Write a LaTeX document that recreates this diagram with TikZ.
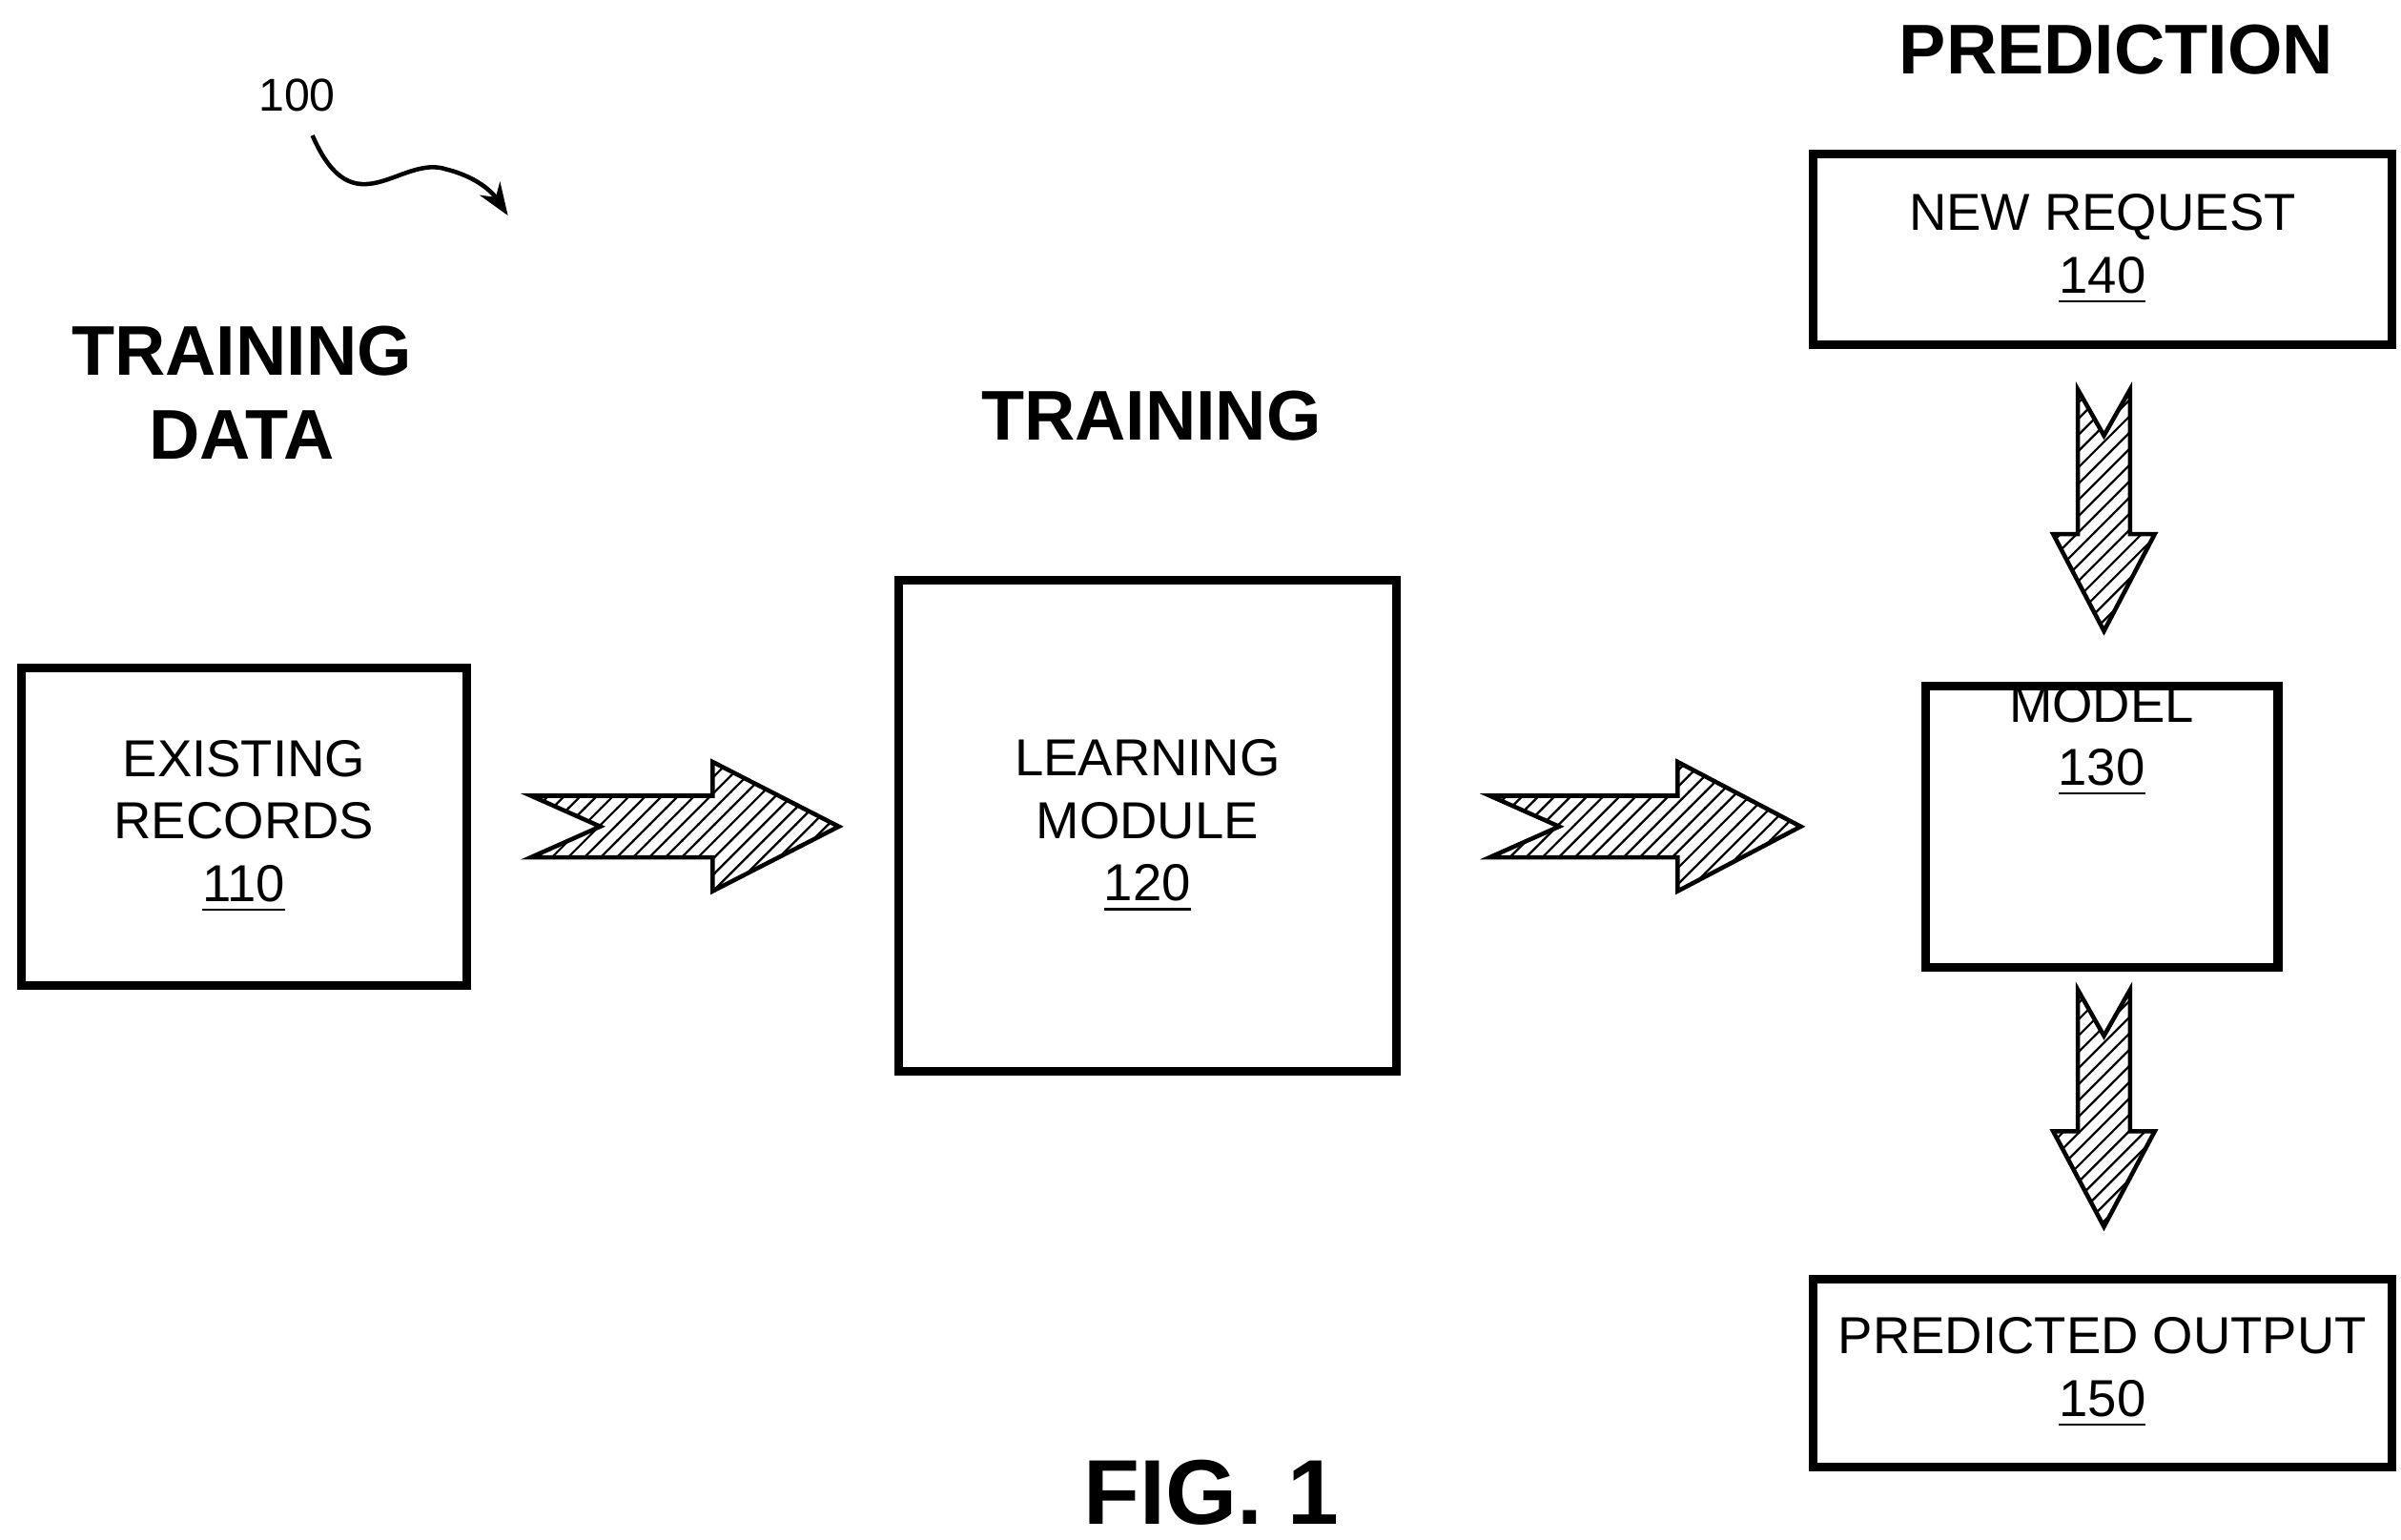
\documentclass[tikz,border=0pt]{standalone}
\usepackage{fontspec}
\setmainfont{Liberation Sans}
\usetikzlibrary{calc,patterns,arrows.meta}
\begin{document}
\begin{tikzpicture}[x=0.01cm,y=-0.01cm,
    box/.style={draw,line width=1.6pt,align=center,inner sep=0pt,font=\fontsize{9.6}{11.6}\selectfont},
    head/.style={font=\bfseries\fontsize{13}{15.5}\selectfont,align=center},
    % hatched notched arrow: length, body half, head half, head length, notch
    pics/fatarrow/.style n args={5}{code={
        \draw[line width=0.8pt,pattern=north east lines]
          (0,#2) -- ({#1-#4},#2) -- ({#1-#4},#3) -- (#1,0) -- ({#1-#4},-#3)
          -- ({#1-#4},-#2) -- (0,-#2) -- (#5,0) -- cycle;}}]
    \useasboundingbox (0,0) rectangle (1560,1000);

    % Headings
    \node[head] (hdata) at (157,255) {TRAINING\\DATA};
    \node[head] (htrain) at (748,270) {TRAINING};
    \node[head] (hpred) at (1375,32) {PREDICTION};
    \node[font=\bfseries\fontsize{17}{20}\selectfont] (fig) at (787,970) {FIG. 1};

    % Reference numeral
    \node[font=\fontsize{8.5}{10}\selectfont] (ref) at (193,62) {100};
    \coordinate (reftip) at (330,140);
    \draw[line width=0.8pt,-{Stealth[length=6pt]}] (203,88)
      .. controls (230,150) and (260,100) .. (290,110)
      .. controls (310,115) and (320,125) .. (reftip);

    % Boxes
    \node[box,minimum width=289cm/100,minimum height=206cm/100] (recs) at (158.5,537) {EXISTING\\RECORDS\\\underline{110}};
    \node[box,minimum width=323cm/100,minimum height=319cm/100] (learn) at (745.5,536.5) {LEARNING\\MODULE\\\underline{120}};
    \node[box,minimum width=229cm/100,minimum height=182cm/100] (model) at (1365.5,537) {MODEL\\\underline{130}\\[22pt]};
    \node[box,minimum width=376cm/100,minimum height=124cm/100] (req) at (1366,162) {NEW REQUEST\\\underline{140}};
    \node[box,minimum width=376cm/100,minimum height=122cm/100] (out) at (1366,892) {PREDICTED OUTPUT\\\underline{150}};

    % Arrows
    \pic at (345,537) {fatarrow={200}{20}{42}{82}{45}};
    \pic at (968,537) {fatarrow={202}{20}{42}{80}{45}};
    \pic[rotate=-90] at (1367,253) {fatarrow={157}{17}{33}{63}{30}};
    \pic[rotate=-90] at (1367,643) {fatarrow={154}{17}{33}{62}{30}};
\end{tikzpicture}
\end{document}
